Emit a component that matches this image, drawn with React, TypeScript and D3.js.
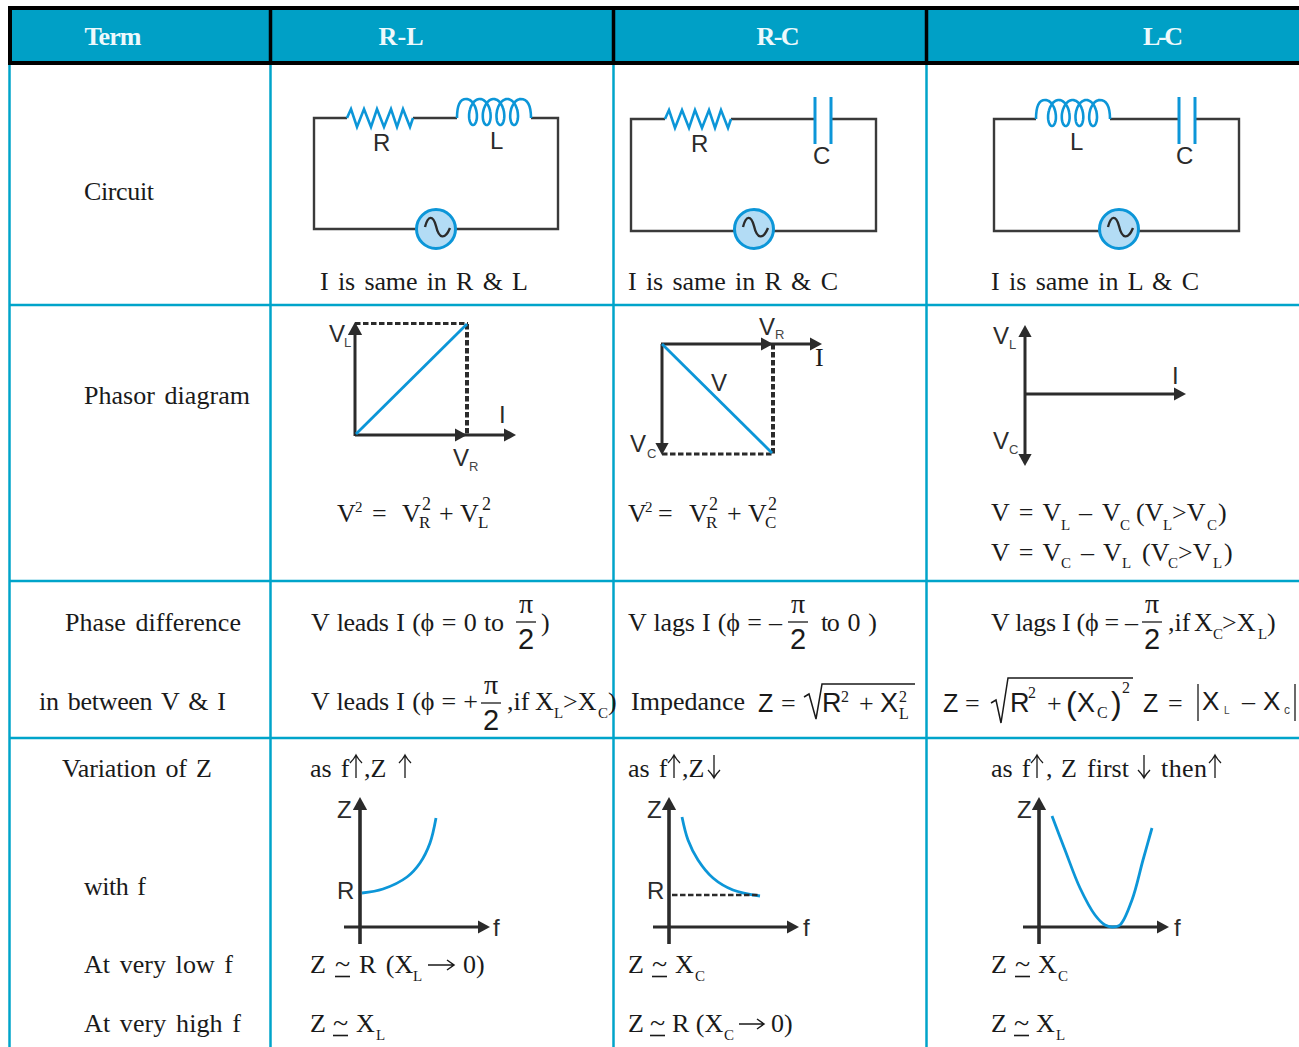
import React from "react";
import * as d3 from "d3";

const headers = ["Term", "R-L", "R-C", "L-C"];
const termLabels = ["Circuit", "Phasor diagram", "Phase difference", "in between V & I", "Variation of Z", "with f", "At very low f", "At very high f"];
const sameCurrent = ["I is same in R & L", "I is same in R & C", "I is same in L & C"];

const rlF = [2, 23, 47, 60, 70, 76];
const rlZ = [34, 38, 50, 64, 84, 109];
const rcF = [13, 19, 29, 44, 64, 91];
const rcZ = [110, 87, 67, 49, 37, 31];
const lcF = [13, 26, 41, 56, 66, 73, 81, 93, 104, 113];
const lcZ = [111, 77, 39, 12, 2, 0, 2, 27, 67, 99];

const CY = "#00a4ca";
const HD = "#00a0c6";
const BL = "#0c96d8";
const DK = "#2b2b2b";
const SERIF = "'Liberation Serif', serif";
const SANS = "'Liberation Sans', sans-serif";

function T({ x, y, size = 26, anchor, fill = "#1a1a1a", font = SERIF, ws = 3, w, weight, children }: any) {
  return (
    <text x={x} y={y} fontSize={size} fontFamily={font} fill={fill} textAnchor={anchor} fontWeight={weight}
      style={{ wordSpacing: ws, whiteSpace: "pre" }} textLength={w} lengthAdjust={w ? "spacing" : undefined}>
      {children}
    </text>
  );
}
const Sub = ({ x, y, children, size = 15 }: any) => <T x={x} y={y} size={size} ws={0}>{children}</T>;
const SubS = ({ x, y, children, size = 13 }: any) => <T x={x} y={y} size={size} ws={0} font={SANS} fill="#444">{children}</T>;
const Lab = ({ x, y, children, size = 24 }: any) => <T x={x} y={y} size={size} font={SANS} fill={DK} ws={0}>{children}</T>;

function Frac({ cx, y, halfW = 10 }: any) {
  return (
    <g>
      <T x={cx} y={y - 9} anchor="middle" size={28}>π</T>
      <line x1={cx - halfW} x2={cx + halfW} y1={y} y2={y} stroke="#1a1a1a" strokeWidth={1.3} />
      <T x={cx} y={y + 27} anchor="middle" size={29} font={SANS}>2</T>
    </g>
  );
}
function Approx({ x, y }: any) {
  return (
    <g>
      <T x={x} y={y} size={28} ws={0}>~</T>
      <line x1={x} x2={x + 15} y1={y + 3.5} y2={y + 3.5} stroke="#1a1a1a" strokeWidth={1.6} />
    </g>
  );
}
function Arrow({ x, y1, y2 }: any) {
  const d = y2 < y1 ? 1 : -1;
  return (
    <path d={`M${x},${y1}L${x},${y2}M${x - 6},${y2 + d * 8}Q${x - 2},${y2 + d * 4} ${x},${y2}Q${x + 2},${y2 + d * 4} ${x + 6},${y2 + d * 8}`}
      fill="none" stroke="#1a1a1a" strokeWidth={1.3} />
  );
}

function Resistor({ x, y }: any) {
  const xs = [0, 4, 10, 17, 24, 30, 37, 44, 50, 56, 63, 66];
  const ys = [0, -9, 9, -9, 9, -9, 9, -9, 9, -9, 9, 0];
  const line = d3.line<number>().x((d) => x + d).y((_, i) => y + ys[i]);
  return <path d={line(xs) || ""} fill="none" stroke={BL} strokeWidth={2.6} />;
}
function Coil({ x, y }: any) {
  const ts = d3.range(-Math.PI, 7 * Math.PI + 0.01, 0.1);
  const px = (t: number) => x + 16 + 2.18 * t - 7 * Math.sin(t);
  const py = (t: number) => y - 6 + 13 * Math.cos(t);
  const pts = ts.map((t) => `${px(t).toFixed(1)},${py(t).toFixed(1)}`).join("L");
  return <path d={`M${x},${y}C${x},${y - 13} ${x + 3},${y - 19} ${x + 9},${y - 19}L${pts}C${x + 70},${y - 19} ${x + 74},${y - 13} ${x + 74},${y}`} fill="none" stroke={BL} strokeWidth={2.6} />;
}
function Cap({ x, y }: any) {
  return (
    <g stroke={BL} strokeWidth={3}>
      <line x1={x} x2={x} y1={y - 22} y2={y + 25} />
      <line x1={x + 16} x2={x + 16} y1={y - 22} y2={y + 25} />
    </g>
  );
}
function Source({ x, y }: any) {
  return (
    <g>
      <circle cx={x} cy={y} r={19.5} fill="#b3dcf5" stroke={BL} strokeWidth={3} />
      <path d={`M${x - 11},${y - 2}C${x - 8},${y - 14} ${x - 3},${y - 14} ${x},${y - 3}C${x + 3},${y + 10} ${x + 9},${y + 11} ${x + 14},${y - 1}`} fill="none" stroke={DK} strokeWidth={2.4} />
    </g>
  );
}
function Head({ x, y, dir, s = 12 }: any) {
  const w = s * 0.55;
  const p = dir === "r" ? `${x},${y} ${x - s},${y - w} ${x - s},${y + w}`
    : dir === "u" ? `${x},${y} ${x - w},${y + s} ${x + w},${y + s}`
    : `${x},${y} ${x - w},${y - s} ${x + w},${y - s}`;
  return <polygon points={p} fill={DK} />;
}
const L = ({ x1, y1, x2, y2, c = DK, w = 3, dash }: any) => (
  <line x1={x1} y1={y1} x2={x2} y2={y2} stroke={c} strokeWidth={w} strokeDasharray={dash} />
);

function Plot({ x0, f, z, top = 800 }: any) {
  const sx = d3.scaleLinear().domain([0, 100]).range([x0, x0 + 100]);
  const sy = d3.scaleLinear().domain([0, 100]).range([927, 827]);
  const line = d3.line<number>().x((d) => sx(d)).y((_, i) => sy(z[i])).curve(d3.curveCatmullRom);
  return (
    <g>
      <L x1={x0} y1={944} x2={x0} y2={top + 5} w={3.6} />
      <Head x={x0} y={top - 3} dir="u" s={13} />
      <L x1={x0 - 16} y1={927} x2={x0 + 122} y2={927} w={3} />
      <Head x={x0 + 130} y={927} dir="r" s={12} />
      <path d={line(f) || ""} fill="none" stroke={BL} strokeWidth={2.8} />
    </g>
  );
}

export default function App() {
  const dash = "5.5 2.5";
  return (
    <svg width={1299} height={1047} style={{ position: "absolute", left: 0, top: 0, background: "#fff" }}>
      {/* header */}
      <rect x={10} y={9} width={1289} height={55} fill={HD} />
      <g stroke={CY} strokeWidth={2.5}>
        {[9.5, 270.5, 613.5, 926.5].map((x) => <line key={x} x1={x} x2={x} y1={65} y2={1047} />)}
        {[305, 581, 738].map((y) => <line key={y} x1={9} x2={1299} y1={y} y2={y} />)}
      </g>
      <g stroke="#000" strokeWidth={4}>
        <line x1={8} x2={1299} y1={8} y2={8} />
        <line x1={8} x2={1299} y1={63} y2={63} />
        <line x1={10} x2={10} y1={8} y2={64} />
        {[270.5, 613.5, 926.5].map((x) => <line key={x} x1={x} x2={x} y1={8} y2={64} strokeWidth={3.5} />)}
      </g>
      {headers.map((h, i) => (
        <T key={h} x={[113, 401, 778, 1163][i]} y={45} anchor="middle" fill="#eef9fc" weight="bold" size={26} ws={0} w={[57, 45, 43, 40][i]}>{h}</T>
      ))}
      {/* terms */}
      {termLabels.map((t, i) => (
        <T key={t} x={[84, 84, 65, 39, 62, 84, 84, 84][i]} y={[200, 404, 631, 710, 777, 895, 973, 1032][i]} w={[70, 166, 176, 187, 150, 62, 149, 157][i]}>{t}</T>
      ))}
      {sameCurrent.map((t, i) => (
        <T key={t} x={[320, 628, 991][i]} y={290} w={[208, 210, 208][i]}>{t}</T>
      ))}

      {/* circuits */}
      <path d="M347,118H314V229H416M456,229H558V118H531M413,118H457" fill="none" stroke="#3a3a3a" strokeWidth={2.4} />
      <Resistor x={347} y={118} /><Coil x={457} y={118} /><Source x={436} y={229} />
      <Lab x={373} y={151}>R</Lab><Lab x={490} y={149}>L</Lab>

      <path d="M665,119H631V231H734M774,231H876V119H831M731,119H815" fill="none" stroke="#3a3a3a" strokeWidth={2.4} />
      <Resistor x={665} y={119} /><Cap x={815} y={119} /><Source x={754} y={229} />
      <Lab x={691} y={152}>R</Lab><Lab x={813} y={164}>C</Lab>

      <path d="M1036,119H994V231H1099M1139,231H1239V119H1195M1110,119H1179" fill="none" stroke="#3a3a3a" strokeWidth={2.4} />
      <Coil x={1036} y={119} /><Cap x={1179} y={119} /><Source x={1119} y={229} />
      <Lab x={1070} y={150}>L</Lab><Lab x={1176} y={164}>C</Lab>

      {/* phasors R-L */}
      <L x1={355} y1={436} x2={355} y2={332} />
      <Head x={355} y={322} dir="u" s={13} />
      <L x1={355} y1={435} x2={505} y2={435} />
      <L x1={355} y1={323.5} x2={468} y2={323.5} dash={dash} w={3} />
      <L x1={467} y1={324} x2={467} y2={435} dash={dash} w={4} />
      <Head x={467} y={435} dir="r" /><Head x={516} y={435} dir="r" />
      <L x1={356} y1={434} x2={467} y2={324} c={BL} w={2.8} />
      <Lab x={329} y={342}>V</Lab><SubS x={344} y={347}>L</SubS>
      <Lab x={499} y={423}>I</Lab>
      <Lab x={453} y={466}>V</Lab><SubS x={469} y={471}>R</SubS>

      {/* phasors R-C */}
      <L x1={661} y1={344} x2={812} y2={344} />
      <L x1={662} y1={454} x2={773} y2={454} dash={dash} w={3} />
      <L x1={773} y1={344} x2={773} y2={454} dash={dash} w={4} />
      <Head x={773} y={344} dir="r" /><Head x={822} y={344} dir="r" />
      <L x1={662} y1={344} x2={662} y2={445} />
      <Head x={662} y={455} dir="d" />
      <L x1={662} y1={344} x2={772} y2={453} c={BL} w={2.8} />
      <Lab x={711} y={391}>V</Lab>
      <Lab x={759} y={335}>V</Lab><SubS x={775} y={339}>R</SubS>
      <T x={815} y={366} ws={0}>I</T>
      <Lab x={630} y={452}>V</Lab><SubS x={647} y={458}>C</SubS>

      {/* phasors L-C */}
      <L x1={1025} y1={335} x2={1025} y2={456} />
      <Head x={1025} y={325} dir="u" /><Head x={1025} y={466} dir="d" />
      <L x1={1025} y1={394} x2={1175} y2={394} />
      <Head x={1186} y={394} dir="r" />
      <Lab x={993} y={344}>V</Lab><SubS x={1009} y={349}>L</SubS>
      <Lab x={993} y={449}>V</Lab><SubS x={1009} y={454}>C</SubS>
      <Lab x={1172} y={384}>I</Lab>

      {/* phasor formulas */}
      <T x={337} y={522}>V</T><Sub x={355} y={512}>2</Sub><T x={372} y={522}>=</T>
      <T x={402} y={522}>V</T><Sub x={422} y={510} size={18}>2</Sub><Sub x={419} y={528} size={17}>R</Sub>
      <T x={439} y={522}>+</T>
      <T x={460} y={522}>V</T><Sub x={482} y={510} size={18}>2</Sub><Sub x={478} y={528} size={17}>L</Sub>

      <T x={628} y={522}>V</T><Sub x={645} y={512}>2</Sub><T x={658} y={522}>=</T>
      <T x={689} y={522}>V</T><Sub x={709} y={510} size={18}>2</Sub><Sub x={706} y={528} size={17}>R</Sub>
      <T x={727} y={522}>+</T>
      <T x={748} y={522}>V</T><Sub x={768} y={510} size={18}>2</Sub><Sub x={765} y={528} size={17}>C</Sub>

      <T x={991} y={521} ws={3}>V = V</T><Sub x={1061} y={530}>L</Sub><T x={1079} y={521}>–</T>
      <T x={1102} y={521}>V</T><Sub x={1120} y={530}>C</Sub><T x={1136} y={521}>(V</T><Sub x={1163} y={530}>L</Sub>
      <T x={1172} y={521}>&gt;V</T><Sub x={1207} y={530}>C</Sub><T x={1218} y={521}>)</T>

      <T x={991} y={561} ws={3}>V = V</T><Sub x={1061} y={568}>C</Sub><T x={1081} y={561}>–</T>
      <T x={1103} y={561}>V</T><Sub x={1122} y={568}>L</Sub><T x={1142} y={561}>(V</T><Sub x={1168} y={568}>C</Sub>
      <T x={1178} y={561}>&gt;V</T><Sub x={1213} y={568}>L</Sub><T x={1224} y={561}>)</T>

      {/* phase difference */}
      <T x={311} y={631} ws={1.5} w={193}>V leads I (ϕ = 0 to</T><Frac cx={526} y={622} /><T x={541} y={631}>)</T>
      <T x={628} y={631} ws={1} w={154}>V lags I (ϕ = –</T><Frac cx={798} y={622} /><T x={821} y={631} ws={4} w={56}>to 0 )</T>
      <T x={991} y={631} ws={0} w={147}>V lags I (ϕ = –</T><Frac cx={1152} y={622} /><T x={1168} y={631} ws={0}>,if</T>
      <T x={1194} y={631}>X</T><Sub x={1213} y={639}>C</Sub><T x={1222} y={631}>&gt;X</T><Sub x={1258} y={639}>L</Sub><T x={1267} y={631}>)</T>

      <T x={311} y={710} ws={1} w={167}>V leads I (ϕ = +</T><Frac cx={491} y={703} /><T x={507} y={710} ws={0}>,if</T>
      <T x={535} y={710}>X</T><Sub x={554} y={718}>L</Sub><T x={563} y={710}>&gt;X</T><Sub x={598} y={718}>C</Sub><T x={608} y={710}>)</T>

      <T x={631} y={710}>Impedance</T>
      <T x={758} y={712} font={SANS} ws={2} size={25}>Z</T><T x={781} y={712} size={26}>=</T>
      <path d="M804,697L809,694L816,719L822,684H915" fill="none" stroke="#1a1a1a" strokeWidth={1.5} />
      <T x={822} y={712} font={SANS} size={27}>R</T><Sub x={841} y={702} size={16}>2</Sub><T x={859} y={712}>+</T>
      <T x={880} y={712} font={SANS} size={27}>X</T><Sub x={899} y={702} size={16}>2</Sub><Sub x={899} y={719} size={16}>L</Sub>

      <T x={943} y={712} font={SANS} size={25} ws={0}>Z</T><T x={965} y={712}>=</T>
      <path d="M991,703L996,700L1001,723L1008,678H1133" fill="none" stroke="#1a1a1a" strokeWidth={1.5} />
      <T x={1010} y={712} font={SANS} size={27}>R</T><Sub x={1028} y={698} size={16}>2</Sub><T x={1047} y={712}>+</T>
      <T x={1066} y={714} font={SANS} size={32} ws={0}>(</T><T x={1077} y={712} font={SANS} size={27}>X</T>
      <Sub x={1097} y={718} size={16}>C</Sub><T x={1111} y={714} font={SANS} size={32}>)</T><Sub x={1122} y={693} size={16}>2</Sub>
      <T x={1143} y={712} font={SANS} size={25}>Z</T><T x={1168} y={712}>=</T>
      <line x1={1198} x2={1198} y1={684} y2={721} stroke="#1a1a1a" strokeWidth={1.3} />
      <T x={1202} y={710} font={SANS} size={26}>X</T><SubS x={1224} y={714} size={10}>L</SubS>
      <T x={1242} y={710}>–</T>
      <T x={1263} y={710} font={SANS} size={26}>X</T><SubS x={1284} y={714} size={12}>c</SubS>
      <line x1={1295} x2={1295} y1={684} y2={721} stroke="#1a1a1a" strokeWidth={1.3} />

      {/* variation */}
      <T x={310} y={777} ws={2.5}>as f</T><Arrow x={356} y1={778} y2={755} /><T x={364} y={777} ws={0}>,Z</T><Arrow x={405} y1={778} y2={755} />
      <T x={628} y={777} ws={2.5}>as f</T><Arrow x={674} y1={778} y2={755} /><T x={682} y={777} ws={0}>,Z</T><Arrow x={714} y1={755} y2={778} />
      <T x={991} y={777} ws={2.5}>as f</T><Arrow x={1037} y1={778} y2={755} /><T x={1046} y={777}>,</T>
      <T x={1061} y={777}>Z</T><T x={1087} y={777}>first</T><Arrow x={1144} y1={755} y2={778} /><T x={1161} y={777} w={46}>then</T><Arrow x={1215} y1={778} y2={755} />

      <Plot x0={360} f={rlF} z={rlZ} />
      <Lab x={337} y={818}>Z</Lab><Lab x={337} y={899}>R</Lab><Lab x={493} y={936}>f</Lab>
      <Plot x0={669} f={rcF} z={rcZ} />
      <L x1={672} y1={895} x2={760} y2={895} dash={dash} w={2.5} />
      <Lab x={647} y={818}>Z</Lab><Lab x={647} y={899}>R</Lab><Lab x={803} y={936}>f</Lab>
      <Plot x0={1039} f={lcF} z={lcZ} top={800} />
      <Lab x={1017} y={818}>Z</Lab><Lab x={1174} y={936}>f</Lab>

      {/* limits */}
      <T x={310} y={973}>Z</T><Approx x={335} y={973} /><T x={359} y={973} ws={3}>R (X</T><Sub x={413} y={981}>L</Sub>
      <path d="M428,965H454M447,960L454,965L447,970" fill="none" stroke="#1a1a1a" strokeWidth={1.5} /><T x={463} y={973}>0)</T>
      <T x={310} y={1032}>Z</T><Approx x={333} y={1032} /><T x={356} y={1032}>X</T><Sub x={376} y={1040}>L</Sub>

      <T x={628} y={973}>Z</T><Approx x={652} y={973} /><T x={675} y={973}>X</T><Sub x={695} y={981}>C</Sub>
      <T x={628} y={1032}>Z</T><Approx x={650} y={1032} /><T x={672} y={1032} ws={0}>R (X</T><Sub x={724} y={1040}>C</Sub>
      <path d="M739,1024H764M757,1019L764,1024L757,1029" fill="none" stroke="#1a1a1a" strokeWidth={1.5} /><T x={771} y={1032}>0)</T>

      <T x={991} y={973}>Z</T><Approx x={1015} y={973} /><T x={1038} y={973}>X</T><Sub x={1058} y={981}>C</Sub>
      <T x={991} y={1032}>Z</T><Approx x={1014} y={1032} /><T x={1036} y={1032}>X</T><Sub x={1056} y={1040}>L</Sub>
    </svg>
  );
}
